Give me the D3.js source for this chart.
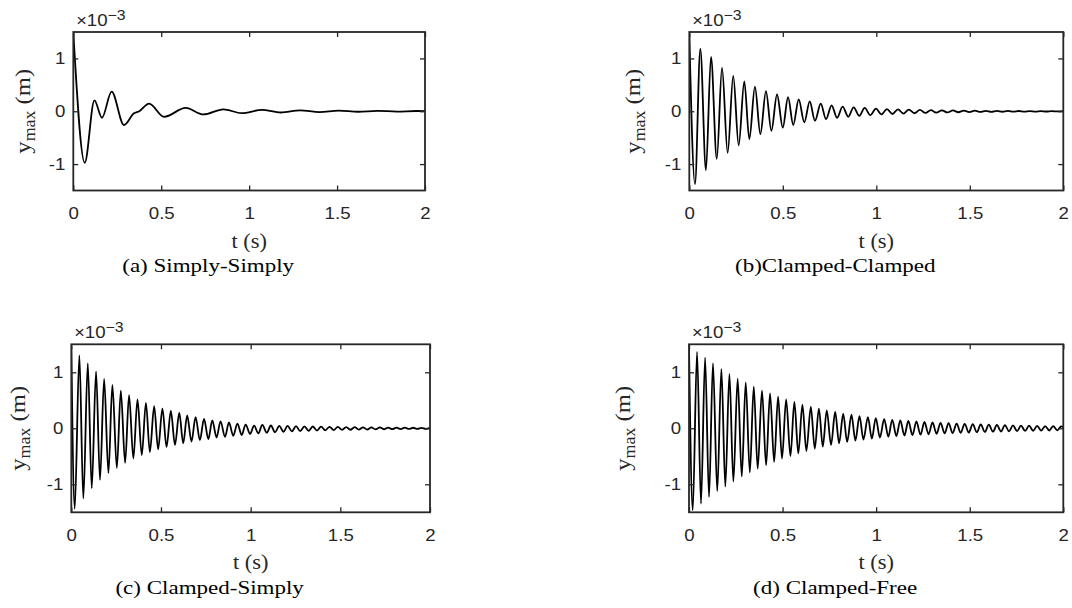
<!DOCTYPE html>
<html>
<head>
<meta charset="utf-8">
<script src="https://cdn.jsdelivr.net/npm/d3@7"></script>
<style>
  html, body { margin: 0; padding: 0; background: #fff; }
  svg { display: block; }
</style>
</head>
<body>
<svg id="chart" width="1072" height="608"></svg>
<script>
// extrema of each response (t in s, y in 1e-3 m)
const tA = [0, 0.065, 0.12, 0.163, 0.218, 0.288, 0.345, 0.375, 0.431, 0.516, 0.639, 0.74, 0.853, 0.958, 1.072,
  1.18, 1.29, 1.40, 1.51, 1.62, 1.73, 1.84, 1.95, 2.0];
const yA = [1.5, -0.975, 0.205, -0.123, 0.373, -0.26, -0.04, 0.0, 0.143, -0.105, 0.063, -0.061, 0.037, -0.037, 0.026,
  -0.024, 0.017, -0.015, 0.011, -0.009, 0.007, -0.006, 0.005, 0.003];

const tB = [0, 0.0305, 0.059, 0.089, 0.116, 0.147, 0.175, 0.205, 0.235, 0.264, 0.294, 0.321, 0.351, 0.38, 0.41,
  0.439, 0.469, 0.5, 0.528, 0.556, 0.585, 0.615, 0.644, 0.672, 0.703, 0.731, 0.761, 0.79, 0.82, 0.85,
  0.879, 0.909, 0.938, 0.968, 0.998, 1.027, 1.057, 1.086, 1.116, 1.145, 1.174, 1.204, 1.233, 1.263, 1.292,
  1.321, 1.351, 1.380, 1.410, 1.439, 1.468, 1.498, 1.527, 1.557, 1.586, 1.615, 1.645, 1.674, 1.704, 1.733,
  1.762, 1.792, 1.821, 1.851, 1.880, 1.909, 1.939, 1.968, 1.998];
const yB = [1.46, -1.378, 1.18, -1.117, 1.03, -0.90, 0.826, -0.788, 0.67, -0.645, 0.566, -0.527, 0.466, -0.434, 0.38,
  -0.372, 0.317, -0.31, 0.268, -0.26, 0.224, -0.21, 0.186, -0.179, 0.143, -0.149, 0.112, -0.123, 0.088, -0.104,
  0.075, -0.086, 0.063, -0.074, 0.05, -0.06, 0.042, -0.052, 0.036, -0.045, 0.030, -0.038, 0.025, -0.032, 0.021,
  -0.027, 0.018, -0.023, 0.015, -0.019, 0.012, -0.016, 0.010, -0.013, 0.008, -0.011, 0.007, -0.009, 0.006, -0.008,
  0.005, -0.007, 0.004, -0.006, 0.004, -0.005, 0.003, -0.004, 0.003];

const tC = [0, 0.019, 0.045, 0.067, 0.092, 0.114, 0.138, 0.16, 0.183, 0.207, 0.229, 0.254, 0.276, 0.30, 0.322,
  0.346, 0.369, 0.393, 0.416, 0.438, 0.462, 0.484, 0.508, 0.531, 0.555, 0.578, 0.602, 0.624, 0.646, 0.67,
  0.693, 0.717, 0.74, 0.764, 0.786, 0.81, 0.832, 0.857, 0.879, 0.903, 0.926, 0.95, 0.972, 0.997, 1.019,
  1.043, 1.065, 1.09, 1.113, 1.136, 1.16, 1.183, 1.206, 1.23, 1.253, 1.276, 1.3, 1.323, 1.346, 1.37,
  1.393, 1.416, 1.44, 1.463, 1.486, 1.51, 1.533, 1.556, 1.58, 1.603, 1.626, 1.65, 1.673, 1.696, 1.72,
  1.743, 1.766, 1.79, 1.813, 1.836, 1.86, 1.883, 1.906, 1.93, 1.953, 1.976, 2.0];
const yC = [1.45, -1.436, 1.30, -1.254, 1.158, -1.072, 1.018, -0.92, 0.88, -0.80, 0.776, -0.709, 0.673, -0.618, 0.594,
  -0.54, 0.515, -0.48, 0.455, -0.424, 0.394, -0.375, 0.353, -0.333, 0.31, -0.297, 0.273, -0.266, 0.23, -0.236,
  0.20, -0.212, 0.17, -0.194, 0.14, -0.164, 0.122, -0.151, 0.104, -0.133, 0.085, -0.12, 0.067, -0.102, 0.049,
  -0.09, 0.06, -0.078, 0.05, -0.07, 0.045, -0.062, 0.042, -0.055, 0.038, -0.05, 0.035, -0.045, 0.032, -0.04,
  0.03, -0.036, 0.027, -0.032, 0.025, -0.029, 0.022, -0.026, 0.02, -0.023, 0.018, -0.021, 0.016, -0.019, 0.015,
  -0.017, 0.013, -0.015, 0.012, -0.014, 0.011, -0.012, 0.01, -0.011, 0.009, -0.01, 0.008];

const tD = [0, 0.02, 0.043, 0.064, 0.086, 0.107, 0.128, 0.151, 0.173, 0.194, 0.216, 0.237, 0.26, 0.282, 0.303,
  0.325, 0.346, 0.367, 0.39, 0.412, 0.433, 0.455, 0.476, 0.497, 0.519, 0.542, 0.563, 0.584, 0.606, 0.627,
  0.651, 0.672, 0.694, 0.715, 0.736, 0.759, 0.781, 0.802, 0.824, 0.845, 0.868, 0.889, 0.911, 0.932, 0.956,
  0.977, 0.998, 1.02, 1.043, 1.065, 1.086, 1.108, 1.129, 1.151, 1.172, 1.194, 1.215, 1.237, 1.258, 1.28,
  1.301, 1.323, 1.344, 1.366, 1.387, 1.409, 1.43, 1.452, 1.473, 1.495, 1.516, 1.538, 1.559, 1.581, 1.602,
  1.624, 1.645, 1.667, 1.688, 1.71, 1.731, 1.753, 1.774, 1.796, 1.817, 1.839, 1.86, 1.882, 1.903, 1.925,
  1.946, 1.968, 1.989, 2.0];
const yD = [1.45, -1.466, 1.364, -1.345, 1.262, -1.224, 1.158, -1.12, 1.06, -1.04, 0.97, -0.95, 0.885, -0.86, 0.818,
  -0.787, 0.745, -0.72, 0.673, -0.66, 0.624, -0.6, 0.564, -0.54, 0.515, -0.497, 0.473, -0.448, 0.424, -0.406,
  0.382, -0.364, 0.352, -0.327, 0.321, -0.297, 0.291, -0.267, 0.26, -0.242, 0.242, -0.218, 0.218, -0.2, 0.2,
  -0.182, 0.182, -0.164, 0.164, -0.15, 0.152, -0.14, 0.142, -0.13, 0.132, -0.122, 0.122, -0.114, 0.113, -0.106,
  0.105, -0.099, 0.098, -0.092, 0.091, -0.086, 0.085, -0.08, 0.079, -0.075, 0.073, -0.07, 0.068, -0.065, 0.064,
  -0.061, 0.06, -0.057, 0.056, -0.054, 0.052, -0.05, 0.049, -0.047, 0.046, -0.044, 0.043, -0.041, 0.04, -0.039,
  0.038, -0.036, 0.035, 0.02];

const xTicks = [0, 0.5, 1, 1.5, 2];
const yTicks = [-1, 0, 1];
const captions = ['(a) Simply-Simply', '(b)Clamped-Clamped', '(c) Clamped-Simply', '(d) Clamped-Free'];

const panels = [
  { t: tA, y: yA, x0: 73.3, x1: 425, y0: 32, y1: 190.5, labX: 30 },
  { t: tB, y: yB, x0: 689.3, x1: 1063.3, y0: 32, y1: 190.5, labX: 640 },
  { t: tC, y: yC, x0: 71.3, x1: 430, y0: 344.3, y1: 512.3, labX: 25 },
  { t: tD, y: yD, x0: 689, x1: 1063.3, y0: 344.3, y1: 512.3, labX: 630 }
];

const svg = d3.select('#chart');
const axisColor = '#262626';
const sans = "'Liberation Sans', Arial, sans-serif";
const serif = "'Liberation Serif', 'Times New Roman', serif";
// the figure's glyphs are wider than Liberation's, so text gets stretched along its reading direction
const sxSans = 1.13;
const sxSerif = 1.18;

panels.forEach((p, i) => {
  const x = d3.scaleLinear().domain([0, 2]).range([p.x0, p.x1]);
  const y = d3.scaleLinear().domain([-1.5, 1.5]).range([p.y1, p.y0]);
  const g = svg.append('g');

  g.append('clipPath').attr('id', 'clip' + i)
    .append('rect')
    .attr('x', p.x0).attr('y', p.y0)
    .attr('width', p.x1 - p.x0).attr('height', p.y1 - p.y0);

  const pts = p.t.map((t, k) => [t, p.y[k]]);
  const line = d3.line()
    .x(d => x(d[0]))
    .y(d => y(d[1]))
    .curve(d3.curveMonotoneX);

  g.append('path')
    .datum(pts)
    .attr('clip-path', `url(#clip${i})`)
    .attr('d', line)
    .attr('fill', 'none')
    .attr('stroke', '#000')
    .attr('stroke-width', 1.8)
    .attr('stroke-linejoin', 'round');

  // axes, ticks pointing inward on all four sides
  const bottom = g.append('g')
    .attr('transform', `translate(0,${p.y1})`)
    .call(d3.axisBottom(x).tickValues(xTicks).tickSizeInner(-5).tickSizeOuter(0).tickPadding(17).tickFormat(d3.format('')));
  const top = g.append('g')
    .attr('transform', `translate(0,${p.y0})`)
    .call(d3.axisTop(x).tickValues(xTicks).tickSizeInner(-5).tickSizeOuter(0).tickFormat(''));
  const left = g.append('g')
    .attr('transform', `translate(${p.x0},0)`)
    .call(d3.axisLeft(y).tickValues(yTicks).tickSizeInner(-5).tickSizeOuter(0).tickPadding(8).tickFormat(d3.format('')));
  const right = g.append('g')
    .attr('transform', `translate(${p.x1},0)`)
    .call(d3.axisRight(y).tickValues(yTicks).tickSizeInner(-5).tickSizeOuter(0).tickFormat(''));

  [bottom, top, left, right].forEach(a => {
    a.select('.domain').remove();
    a.selectAll('line').attr('stroke', axisColor).attr('stroke-width', 1.3);
    a.selectAll('text').attr('fill', axisColor).style('font-family', sans).style('font-size', '16.5px');
  });
  bottom.selectAll('text').attr('transform', `scale(${sxSans},1)`);
  left.selectAll('text')
    .text(d => d < 0 ? '-' + Math.abs(d) : d)
    .attr('x', -8 / sxSans)
    .attr('transform', `scale(${sxSans},1)`);

  g.append('rect')
    .attr('x', p.x0).attr('y', p.y0)
    .attr('width', p.x1 - p.x0).attr('height', p.y1 - p.y0)
    .attr('fill', 'none')
    .attr('stroke', axisColor)
    .attr('stroke-width', 1.8);

  // exponent label
  const ex = g.append('text')
    .attr('transform', `translate(${p.x0 + 3},${p.y0 - 6.3}) scale(${sxSans},1)`)
    .attr('fill', axisColor)
    .style('font-family', sans);
  ex.append('tspan').style('font-size', '16px').text('\u00d7');
  ex.append('tspan').style('font-size', '16.5px').text('10');
  ex.append('tspan').style('font-size', '14px').attr('dy', -6).text('\u22123');

  // y label
  const cy = (p.y0 + p.y1) / 2;
  const yl = g.append('text')
    .attr('transform', `translate(${p.labX},${cy}) rotate(-90) scale(1.12,1)`)
    .attr('text-anchor', 'middle')
    .attr('fill', axisColor)
    .style('font-family', serif)
    .style('font-size', '22px');
  yl.append('tspan').text('y');
  yl.append('tspan').attr('dy', 5).style('font-size', '16px').text('max');
  yl.append('tspan').attr('dy', -5).text(' (m)');

  const cx = (p.x0 + p.x1) / 2;
  g.append('text')
    .attr('transform', `translate(${cx},${p.y1 + 57}) scale(1.12,1)`)
    .attr('text-anchor', 'middle')
    .attr('fill', axisColor)
    .style('font-family', serif)
    .style('font-size', '20px')
    .text('t (s)');

  g.append('text')
    .attr('transform', `translate(${cx - 41},${p.y1 + 81.5}) scale(${sxSerif},1)`)
    .attr('text-anchor', 'middle')
    .attr('fill', '#000')
    .style('font-family', serif)
    .style('font-size', '19.5px')
    .text(captions[i]);
});
</script>
</body>
</html>
